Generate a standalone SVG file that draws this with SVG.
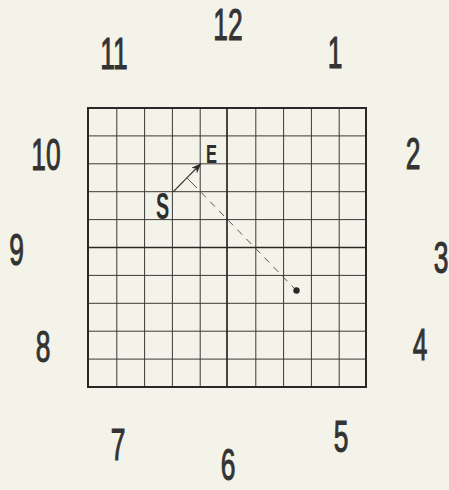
<svg xmlns="http://www.w3.org/2000/svg" width="449" height="490" viewBox="0 0 449 490">
<style>
.bg{fill:#f4f3ea}
.g{stroke:#3c3838;stroke-width:1;fill:none}
.b{stroke:#2a2727;stroke-width:2;fill:none}
.c{stroke:#2a2727;stroke-width:1.7;fill:none}
.n{font-family:"Liberation Sans",Arial,sans-serif;font-size:44px;fill:#333;stroke:#333;stroke-width:1.1;text-anchor:middle}
.l{font-family:"Liberation Sans",Arial,sans-serif;fill:#2f2f2f;text-anchor:middle;font-weight:bold}
</style>
<defs>
<marker id="ah" markerWidth="10" markerHeight="8" refX="9" refY="4" orient="auto" markerUnits="userSpaceOnUse">
<path d="M0,0 L10,4 L0,8 L3,4 Z" fill="#2a2727"/>
</marker>
</defs>
<rect class="bg" width="449" height="490"/>
<g id="grid">
<path class="g" d="M116.8,108V387M144.6,108V387M172.4,108V387M200.2,108V387M255.8,108V387M283.6,108V387M311.4,108V387M339.2,108V387M88,135.9H366M88,163.8H366M88,191.7H366M88,219.6H366M88,275.4H366M88,303.3H366M88,331.2H366M88,359.1H366"/>
<path class="c" d="M227,108V387M88,247.5H366"/>
<rect class="b" x="88" y="108" width="278" height="279"/>
</g>
<g id="labels">
<text class="n" transform="translate(228,40) scale(0.6,1)">12</text>
<text class="n" transform="translate(114,69) scale(0.6,1)">11</text>
<text class="n" transform="translate(335,68) scale(0.6,1)">1</text>
<text class="n" transform="translate(46,170) scale(0.6,1)">10</text>
<text class="n" transform="translate(413,169) scale(0.6,1)">2</text>
<text class="n" transform="translate(16.5,265) scale(0.6,1)">9</text>
<text class="n" transform="translate(441,273) scale(0.6,1)">3</text>
<text class="n" transform="translate(43,362) scale(0.6,1)">8</text>
<text class="n" transform="translate(420,360) scale(0.6,1)">4</text>
<text class="n" transform="translate(118,460) scale(0.6,1)">7</text>
<text class="n" transform="translate(228,480) scale(0.6,1)">6</text>
<text class="n" transform="translate(341,452) scale(0.6,1)">5</text>
</g>
<g id="S"><text class="l" font-size="36" transform="translate(162.5,219) scale(0.55,1)">S</text></g>
<g id="E"><text class="l" font-size="25" transform="translate(211.5,163) scale(0.66,1)">E</text></g>
<g id="end-point"><circle cx="296.5" cy="290.5" r="3.2" fill="#2a2727"/></g>
<g id="connectors">
<line x1="173.4" y1="191.7" x2="200.4" y2="164.2" stroke="#2a2727" stroke-width="1.2" marker-end="url(#ah)"/>
<line x1="187" y1="178" x2="192" y2="183" stroke="#555" stroke-width="1"/>
<line x1="192" y1="183" x2="294" y2="288" stroke="#555" stroke-width="1" stroke-dasharray="7,6"/>
<line x1="184" y1="181" x2="190" y2="175" stroke="#555" stroke-width="1"/>
</g>
</svg>
